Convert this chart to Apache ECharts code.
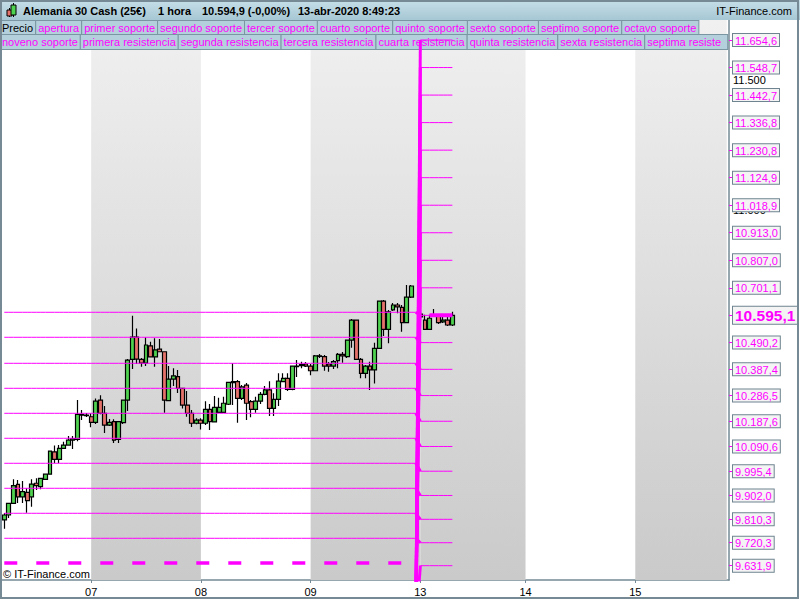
<!DOCTYPE html>
<html><head><meta charset="utf-8">
<script src="https://cdn.jsdelivr.net/npm/echarts@6/dist/echarts.min.js"></script>
<style>html,body{margin:0;padding:0;background:#fff}#c{width:800px;height:600px}</style>
</head><body><div id="c"></div>
<script>
// ---------- DATA ----------
const days = ['06','07','08','09','13','14','15'];
const dayFirstHour = [5,0,0,0,0,0,0];
const dayLastHour  = [23,23,23,23,22,23,20];
const shadedDays = ['07','09','13','15'];

// [open, close, low, high], one per hour slot
const candles = [
[9808,9827,9774,9835],[9827,9872,9815,9873],[9872,9940,9870,9964],[9945,9897,9873,9962],
[9897,9917,9873,9958],[9914,9882,9836,9931],[9897,9946,9859,9964],[9949,9940,9923,9968],
[9936,9968,9926,9969],[9964,9984,9962,9985],[9984,10073,9983,10074],[10070,10041,10026,10094],
[10041,10083,10026,10096],[10083,10096,10082,10109],[10096,10115,10095,10131],[10115,10121,10081,10131],
[10118,10214,10111,10269],[10214,10211,10192,10231],[10211,10209,10204,10219],
[10205,10183,10165,10218],[10183,10265,10177,10275],[10269,10218,10215,10288],[10218,10173,10142,10246],
[10173,10183,10169,10196],[10186,10115,10104,10195],[10118,10186,10104,10188],[10182,10269,10177,10270],
[10269,10423,10227,10427],[10426,10511,10389,10594],[10511,10427,10408,10545],[10426,10411,10397,10431],
[10411,10481,10400,10511],[10478,10435,10434,10494],[10435,10462,10397,10507],[10465,10455,10454,10504],
[10455,10269,10220,10456],[10267,10350,10265,10400],[10350,10362,10323,10392],[10359,10314,10296,10385],
[10314,10250,10237,10316],[10250,10218,10205,10304],[10218,10180,10166,10231],[10180,10192,10176,10199],
[10192,10180,10156,10199],[10180,10233,10173,10265],[10233,10186,10154,10254],[10185,10241,10184,10285],
[10222,10241,10219,10278],[10222,10257,10219,10282],[10253,10337,10250,10338],[10340,10336,10250,10411],
[10340,10276,10182,10346],[10276,10320,10269,10327],[10327,10257,10192,10335],[10263,10233,10203,10269],
[10233,10265,10220,10282],[10265,10291,10254,10300],[10291,10308,10288,10323],[10308,10237,10208,10342],
[10237,10272,10208,10295],[10272,10342,10246,10372],[10340,10353,10338,10372],[10353,10310,10304,10372],
[10310,10400,10307,10401],[10400,10398,10358,10423],[10406,10402,10392,10417],[10408,10400,10396,10416],
[10400,10382,10365,10408],[10382,10439,10381,10443],[10439,10437,10431,10446],[10436,10400,10382,10443],
[10408,10400,10378,10416],[10400,10417,10389,10423],[10421,10445,10392,10450],[10445,10439,10413,10454],
[10436,10500,10431,10501],[10500,10577,10470,10581],[10577,10426,10423,10578],[10426,10372,10353,10431],
[10372,10400,10353,10404],[10400,10385,10308,10417],[10385,10468,10333,10490],[10468,10650,10466,10651],
[10650,10541,10516,10654],[10541,10609,10488,10616],[10616,10635,10612,10643],[10635,10628,10603,10643],
[10626,10567,10532,10635],[10567,10665,10565,10712],[10665,10708,10662,10712],
['-','-','-','-'],
[10589,10600,10577,10608],[10577,10541,10539,10597],[10541,10584,10539,10597],[10597,10593,10589,10620],
[10593,10567,10562,10600],[10570,10577,10566,10593],[10577,10558,10554,10593],[10558,10594.9,10554,10609]
];

const aperturaPrev = 10606.9;
const aperturaNow  = 10595.1;
const supportNames = ['primer soporte','segundo soporte','tercer soporte','cuarto soporte','quinto soporte',
  'sexto soporte','septimo soporte','octavo soporte','noveno soporte','decimo soporte'];
const supportPrev = [10510.7,10410.6,10314.4,10218.2,10122.1,10025.9,9929.7,9833.5,9737.3,null];
const supportNow  = [10490.2,10387.4,10286.5,10187.6,10090.6,9995.4,9902.0,9810.3,9720.3,9631.9];
const resistanceNames = ['primera resistencia','segunda resistencia','tercera resistencia','cuarta resistencia',
  'quinta resistencia','sexta resistencia','septima resistencia','octava resistencia','novena resistencia','decima resistencia'];
const resistancePrev = [null,null,null,null,null,null,null,null,null,null];
const resistanceNow  = [10701.1,10807.0,10913.0,11018.9,11124.9,11230.8,11336.8,11442.7,11548.7,11654.6];
const jumpFrom = 9400;          // previous value of levels not shown on the chart
const dashedLevel = 9642.3;
const priceMarker = 10595.1;
const roundTicks = [11000,11500];
const yMin = 9576.8, yMax = 11731.6;

const legendRow1 = ['Precio','apertura','primer soporte','segundo soporte','tercer soporte','cuarto soporte',
  'quinto soporte','sexto soporte','septimo soporte','octavo soporte'];
const legendRow2 = ['noveno soporte','primera resistencia','segunda resistencia','tercera resistencia',
  'cuarta resistencia','quinta resistencia','sexta resistencia','septima resistencia'];

// ---------- BUILD ----------
const FONT = '"Liberation Sans", Arial, sans-serif';
const MAG = '#ff00ff';
const categories = [], dayStartIdx = [];
days.forEach((d, k) => {
  dayStartIdx.push(categories.length);
  for (let h = dayFirstHour[k]; h <= dayLastHour[k]; h++) categories.push(d + ' ' + String(h).padStart(2,'0') + ':00');
});
const newStart = dayStartIdx[days.indexOf('13')];
const lastIdx = candles.length - 1;

function levelData(prev, now) {
  const arr = new Array(categories.length).fill('-');
  if (prev != null) { for (let i = 0; i < newStart; i++) arr[i] = prev; }
  for (let i = newStart; i <= lastIdx; i++) arr[i] = now;
  return arr;
}
function jumpData(prev, now) {
  const arr = new Array(categories.length).fill('-');
  arr[newStart - 1] = prev != null ? prev : jumpFrom;
  arr[newStart] = now;
  return arr;
}
function lineSeries(name, data, extra) {
  return Object.assign({ name, type: 'line', data, symbol: 'none', silent: true, z: 4,
    lineStyle: { color: MAG, width: 1 }, itemStyle: { color: MAG }, connectNulls: false }, extra || {});
}
function esNum(v, dec) {
  const s = v.toFixed(dec); const parts = s.split('.');
  const ip = parts[0].replace(/\B(?=(\d{3})+(?!\d))/g, '.');
  return parts[1] ? ip + ',' + parts[1] : ip;
}

const series = [];
series.push({ name: '_bg', type: 'line', data: [], silent: true,
  markArea: { silent: true, itemStyle: { color: { type: 'linear', x: 0, y: 0, x2: 0, y2: 1,
      colorStops: [{ offset: 0, color: '#f0f0f0' }, { offset: 1, color: '#cacaca' }] } },
    data: shadedDays.map(d => { const k = days.indexOf(d); const s = dayStartIdx[k];
      const e = k + 1 < days.length ? dayStartIdx[k + 1] : categories.length - 1;
      return [{ xAxis: categories[s] }, { xAxis: categories[e] }]; }) } });
series.push({ name: 'Precio', type: 'candlestick', data: candles, z: 3, barWidth: 4.3,
  itemStyle: { color: '#4fd24f', color0: '#e6736b', borderColor: '#000', borderColor0: '#000', borderWidth: 1.2 } });
series.push(lineSeries('apertura', levelData(aperturaPrev, aperturaNow)));
supportNames.forEach((n, k) => series.push(lineSeries(n, levelData(supportPrev[k], supportNow[k]))));
resistanceNames.forEach((n, k) => series.push(lineSeries(n, levelData(resistancePrev[k], resistanceNow[k]))));
// day-change jumps of every level (thick)
const allPrev = [aperturaPrev, ...supportPrev, ...resistancePrev];
const allNow = [aperturaNow, ...supportNow, ...resistanceNow];
allNow.forEach((v, k) => series.push(lineSeries('_jump' + k, jumpData(allPrev[k], v), { lineStyle: { color: MAG, width: 3 } })));
series.push(lineSeries('_dash', categories.map((c, i) => i <= newStart - 3 ? dashedLevel : '-'),
  { lineStyle: { color: MAG, width: 3.5, type: [13, 19] } }));
series.push(lineSeries('_marker', categories.map((c, i) => (i >= newStart + 2 && i <= lastIdx) ? priceMarker : '-'),
  { lineStyle: { color: MAG, width: 4 } }));

const levelValues = [aperturaNow, ...supportNow, ...resistanceNow];
const labelValues = [...roundTicks, ...levelValues];

const legendCommon = { left: -5, itemGap: -5, itemWidth: 0, itemHeight: 14, icon: 'none', padding: 0,
  width: 2000, selectedMode: false, orient: 'horizontal',
  textStyle: { fontSize: 11, fontFamily: FONT, color: MAG, backgroundColor: '#b3d0dc', borderColor: '#7b96a3',
    borderWidth: 1, padding: [1, 2, 1, 2], lineHeight: 12 } };
const legItem = n => ({ name: n, textStyle: { color: n === 'Precio' ? '#000' : MAG } });
// the last legend item of row 2 is cut at the plot's right edge, as in the original
const legRow2Data = legendRow2.map(legItem);
legRow2Data[legRow2Data.length - 1].textStyle = { color: MAG, width: 78, overflow: 'truncate', ellipsis: '' };

const titleBarGrad = { type: 'linear', x: 0, y: 0, x2: 0, y2: 1,
  colorStops: [{ offset: 0, color: '#c6dfe8' }, { offset: 1, color: '#a6c7d4' }] };
const titleFont = 'bold 11px ' + FONT;

const option = {
  animation: false,
  backgroundColor: '#fff',
  grid: { left: 2, right: 71, top: 20, bottom: 20, containLabel: false, outerBoundsMode: 'none' },
  legend: [Object.assign({}, legendCommon, { top: 20, data: legendRow1.map(legItem) }),
           Object.assign({}, legendCommon, { top: 34, data: legRow2Data })],
  xAxis: { type: 'category', data: categories, boundaryGap: true,
    axisLine: { show: true, lineStyle: { color: '#758a95', width: 1.5 } },
    axisTick: { show: true, alignWithLabel: true, length: 3, interval: i => dayStartIdx.includes(i) && i > 0,
      lineStyle: { color: '#758a95' } },
    axisLabel: { interval: i => dayStartIdx.includes(i) && i > 0, formatter: v => v.slice(0, 2),
      color: '#000', fontSize: 11, fontFamily: FONT, margin: 6, hideOverlap: false },
    splitLine: { show: false } },
  yAxis: { type: 'value', position: 'right', min: yMin, max: yMax, z: 7,
    splitLine: { show: false },
    axisLine: { show: true, lineStyle: { color: '#758a95', width: 1.5 } },
    axisTick: { show: true, customValues: levelValues, length: 4, lineStyle: { color: MAG, width: 1 } },
    axisLabel: { customValues: labelValues, margin: 4, hideOverlap: false, fontFamily: FONT,
      formatter: v => {
        if (Math.abs(v - aperturaNow) < 0.01) return '{b|' + esNum(v, 1) + '}';
        if (roundTicks.some(t => Math.abs(t - v) < 0.01)) return '{k|' + esNum(v, 0) + '}';
        return '{m|' + esNum(v, 1) + '}';
      },
      rich: {
        m: { color: MAG, fontSize: 11, fontFamily: FONT, backgroundColor: '#f4f4f4', borderColor: '#6e8490',
          borderWidth: 1, padding: [1, 2, 0, 2], lineHeight: 11 },
        b: { color: MAG, fontSize: 15.5, fontWeight: 'bold', fontFamily: FONT, backgroundColor: '#f4f4f4',
          borderColor: '#6e8490', borderWidth: 1, padding: [1, 2, 0, 2], lineHeight: 17 },
        k: { color: '#000', fontSize: 11, fontFamily: FONT }
      } } },
  series,
  graphic: [
    { type: 'rect', z: 5, silent: true, shape: { x: 729, y: 20, width: 71, height: 31 }, style: { fill: '#fff' } },
    { type: 'rect', z: 10, silent: true, shape: { x: 0, y: 0, width: 800, height: 20 }, style: { fill: titleBarGrad } },
    { type: 'line', z: 11, silent: true, shape: { x1: 9.5, y1: 8, x2: 9.5, y2: 17 }, style: { stroke: '#000', lineWidth: 1 } },
    { type: 'rect', z: 12, silent: true, shape: { x: 7, y: 10, width: 5, height: 6 }, style: { fill: '#e6736b', stroke: '#000', lineWidth: 1 } },
    { type: 'line', z: 11, silent: true, shape: { x1: 13.5, y1: 3, x2: 13.5, y2: 17 }, style: { stroke: '#000', lineWidth: 1 } },
    { type: 'rect', z: 12, silent: true, shape: { x: 11, y: 5, width: 5, height: 10 }, style: { fill: '#4fd24f', stroke: '#000', lineWidth: 1 } },
    { type: 'text', z: 12, silent: true, style: { text: 'Alemania 30 Cash (25€)', x: 23, y: 11, font: titleFont, fill: '#000', textVerticalAlign: 'middle' } },
    { type: 'text', z: 12, silent: true, style: { text: '1 hora', x: 158, y: 11, font: titleFont, fill: '#000', textVerticalAlign: 'middle' } },
    { type: 'text', z: 12, silent: true, style: { text: '10.594,9 (-0,00%)', x: 202, y: 11, font: titleFont, fill: '#000', textVerticalAlign: 'middle' } },
    { type: 'text', z: 12, silent: true, style: { text: '13-abr-2020 8:49:23', x: 298, y: 11, font: titleFont, fill: '#000', textVerticalAlign: 'middle' } },
    { type: 'text', z: 12, silent: true, style: { text: 'IT-Finance.com', x: 792, y: 11, font: '11px ' + FONT, fill: '#000', textAlign: 'right', textVerticalAlign: 'middle' } },
    { type: 'text', z: 12, silent: true, style: { text: '© IT-Finance.com', x: 3, y: 574, font: '11px ' + FONT, fill: '#000', textVerticalAlign: 'middle' } },
    { type: 'rect', z: 20, silent: true, shape: { x: 1, y: 1, width: 797, height: 597 }, style: { fill: 'none', stroke: '#758a95', lineWidth: 2 } }
  ]
};
const chart = echarts.init(document.getElementById('c'), null, { renderer: 'svg' });
chart.setOption(option);
</script></body></html>
